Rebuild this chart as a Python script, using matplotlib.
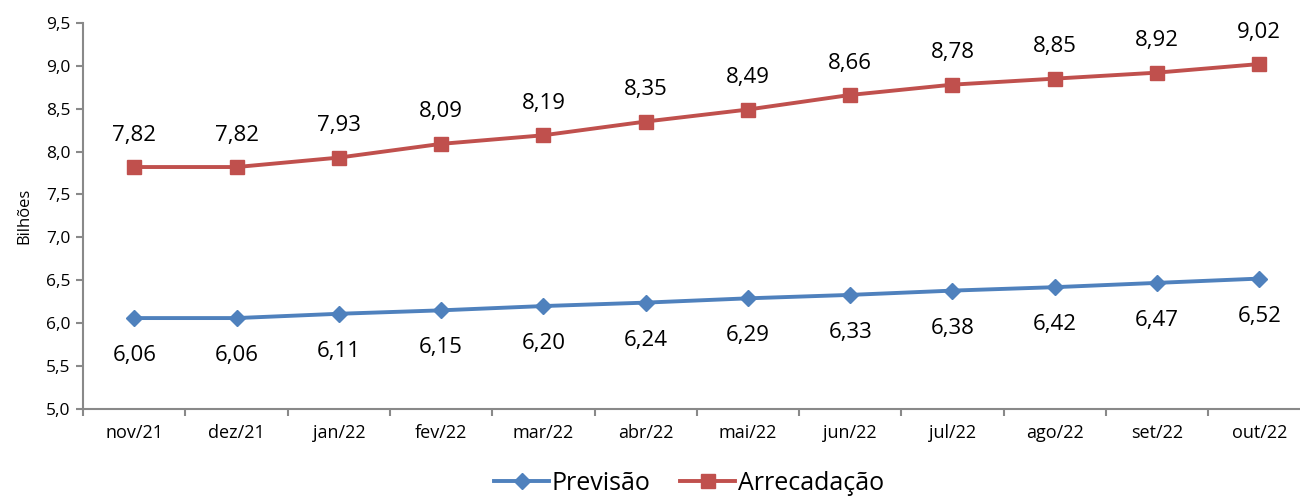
import numpy as np
import matplotlib.pyplot as plt

meses = ['nov/21', 'dez/21', 'jan/22', 'fev/22', 'mar/22', 'abr/22',
         'mai/22', 'jun/22', 'jul/22', 'ago/22', 'set/22', 'out/22']
previsao = [6.06, 6.06, 6.11, 6.15, 6.20, 6.24, 6.29, 6.33, 6.38, 6.42, 6.47, 6.52]
arrecadacao = [7.82, 7.82, 7.93, 8.09, 8.19, 8.35, 8.49, 8.66, 8.78, 8.85, 8.92, 9.02]

azul = '#4F81BD'
vermelho = '#C0504D'
cinza = '#898989'

plt.rcParams['font.family'] = ['Open Sans', 'DejaVu Sans']

fig = plt.figure(figsize=(13, 4.97), dpi=100)
ax = fig.add_axes([0.064, 0.177, 0.944, 0.777])

x = np.arange(len(meses))
ax.plot(x, previsao, color=azul, lw=2.8, marker='D', markersize=8, label='Previsão')
ax.plot(x, arrecadacao, color=vermelho, lw=2.8, marker='s', markersize=10, label='Arrecadação')

def fmt(v):
    return f'{v:.2f}'.replace('.', ',')

for xi, v in zip(x, previsao):
    ax.annotate(fmt(v), (xi, v), xytext=(0, -27), textcoords='offset points',
                ha='center', va='center', fontsize=16)
for xi, v in zip(x, arrecadacao):
    ax.annotate(fmt(v), (xi, v), xytext=(0, 23), textcoords='offset points',
                ha='center', va='center', fontsize=16)

ax.set_xlim(-0.5, len(meses) - 0.5)
ax.set_ylim(5.0, 9.5)
yt = np.arange(5.0, 9.51, 0.5)
ax.set_yticks(yt)
ax.set_yticklabels([f'{v:.1f}'.replace('.', ',') for v in yt], fontsize=12.5)
ax.set_xticks(x)
ax.set_xticklabels(meses, fontsize=13)
ax.set_xticks(np.arange(-0.5, len(meses)), minor=True)
ax.tick_params(axis='x', which='major', length=0, pad=11)
ax.tick_params(axis='x', which='minor', length=5, color=cinza, width=1.5)
ax.tick_params(axis='y', length=5, color=cinza, width=1.5, pad=4)

for s in ['top', 'right']:
    ax.spines[s].set_visible(False)
for s in ['left', 'bottom']:
    ax.spines[s].set_color(cinza)
    ax.spines[s].set_linewidth(1.5)

ax.set_ylabel('Bilhões', fontsize=12, labelpad=10)

fig.legend(*ax.get_legend_handles_labels(), loc='lower center',
           bbox_to_anchor=(0.53, -0.028), ncol=2, frameon=False,
           fontsize=18, handlelength=2.2, handletextpad=0.1, columnspacing=1.2,
           borderpad=0.1)

fig.savefig('out.png', dpi=100)
